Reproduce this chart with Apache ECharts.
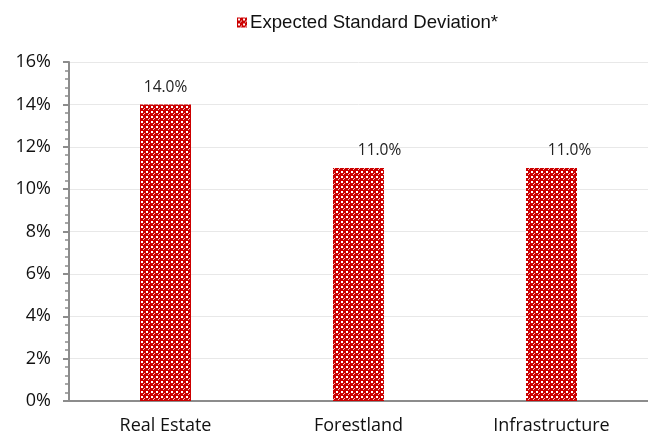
<!DOCTYPE html>
<html><head><meta charset="utf-8">
<script src="https://cdn.jsdelivr.net/npm/echarts@6/dist/echarts.min.js"></script>
<style>html,body{margin:0;padding:0;background:#fff}#c{width:648px;height:435px}</style>
</head><body><div id="c"></div>
<script>
const categories = ['Real Estate', 'Forestland', 'Infrastructure'];
const seriesName = 'Expected Standard Deviation*';
const values = [14.0, 11.0, 11.0];
const yTicks = [0, 2, 4, 6, 8, 10, 12, 14, 16];

// layout / style settings (not data)
const labelShiftX = [0, 21, 18];

function makePattern() {
  const c = document.createElement('canvas');
  c.width = 5; c.height = 5;
  const g = c.getContext('2d');
  g.fillStyle = '#cc0000';
  g.fillRect(0, 0, 5, 5);
  g.fillStyle = '#ffffff';
  g.fillRect(1, 1, 2, 2);
  g.fillStyle = '#f3c4c4';
  g.fillRect(4, 3, 1, 1);
  g.fillRect(3, 4, 1, 1);
  return c;
}
const pat = makePattern();
const font = '"Open Sans", Lato, sans-serif';

const chart = echarts.init(document.getElementById('c'), null, {renderer: 'canvas'});
chart.setOption({
  animation: false,
  textStyle: {fontFamily: font},
  legend: {
    top: 8, left: 232,
    itemWidth: 10, itemHeight: 10, icon: 'rect', itemGap: 4,
    textStyle: {fontFamily: '"Liberation Sans", Arial, sans-serif', fontSize: 18.6, color: '#111', padding: [0, 0, 0, -2]},
    data: [seriesName]
  },
  grid: {left: 69, right: -6, top: 62, bottom: 34, containLabel: false},
  xAxis: {
    type: 'category', data: categories,
    axisLine: {lineStyle: {color: '#8c8c8c', width: 2}},
    axisTick: {show: false},
    axisLabel: {fontSize: 18, color: '#111', margin: 16, fontFamily: font}
  },
  yAxis: {
    type: 'value', min: yTicks[0], max: yTicks[yTicks.length - 1], interval: 2,
    axisLine: {show: true, lineStyle: {color: '#8c8c8c', width: 2}},
    axisTick: {show: true, length: 6, inside: false, lineStyle: {color: '#8c8c8c', width: 2}},
    minorTick: {show: true, splitNumber: 5, length: 4, lineStyle: {color: '#8c8c8c', width: 1.5}},
    splitLine: {show: true, lineStyle: {color: '#e8e8e8', width: 1}},
    axisLabel: {fontSize: 18, color: '#111', margin: 18, formatter: v => v + '%', fontFamily: font}
  },
  series: [{
    name: seriesName, type: 'bar', barWidth: 51,
    data: values.map((v, i) => ({value: v, label: {offset: [labelShiftX[i], 0]}})),
    itemStyle: {color: {image: pat, repeat: 'repeat'}},
    label: {show: true, position: 'top', distance: 9, fontSize: 15.5, color: '#222',
      fontFamily: font, formatter: p => p.value.toFixed(1) + '%'}
  }]
});
</script></body></html>
